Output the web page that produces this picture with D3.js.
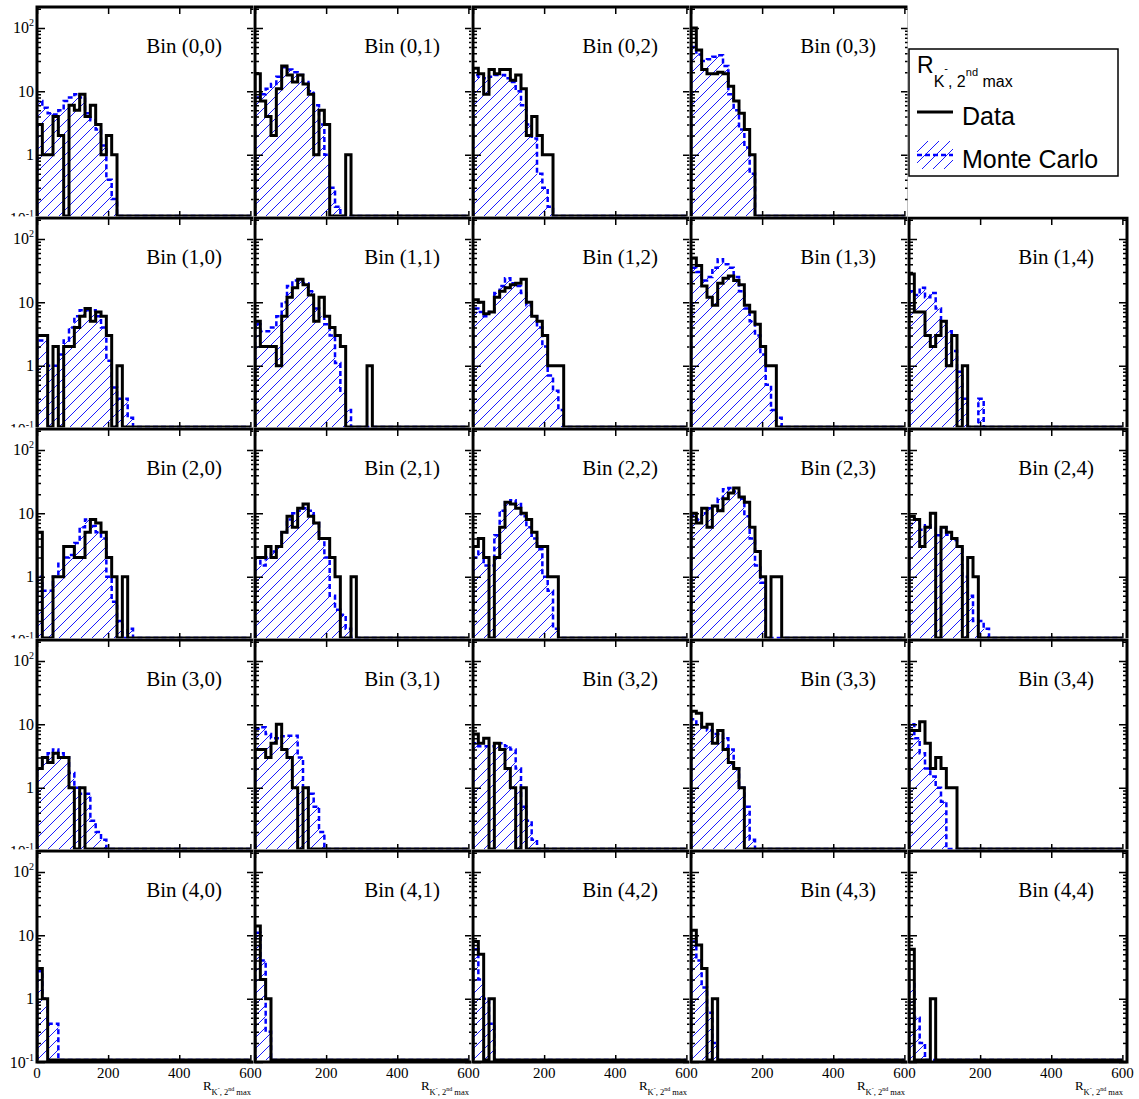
<!DOCTYPE html>
<html><head><meta charset="utf-8">
<script src="https://cdn.jsdelivr.net/npm/d3@7"></script>
<style>body{margin:0;background:#fff}svg{display:block}</style>
</head><body>
<svg id="c" width="1139" height="1099"></svg>
<script>
// ---- data: counts per 15-unit bin of R_{K-, 2nd max}, starting at 0 ----
const BIN_WIDTH = 15;
const xTickValues = [0, 200, 400, 600];
const yMajorValues = [0.1, 1, 10, 100];
const yTickLabels = [["10","2",100],["10","",10],["1","",1],["10","-1",0.1]];

const data00 = [3, 1, 1, 4, 2, 0, 6, 5, 9, 4, 6, 3, 1, 2, 1];
const mc00   = [7, 5.5, 4.5, 4.3, 5, 7, 8, 9, 8, 4.5, 3.5, 2.5, 1.4, 0.4, 0.2];
const data01 = [19, 7, 4, 2, 11, 25, 18, 14, 18, 13, 9, 1, 5, 3, 0, 0, 0, 1];
const mc01   = [8, 9, 11, 13, 17, 24, 22, 20, 18, 14, 10, 6, 3, 1, 0.3, 0.15];
const data02 = [23, 19, 9, 22, 19, 22, 22, 15, 18, 11, 2, 4, 2, 1, 1];
const mc02   = [18, 17, 16, 17, 18, 18, 16, 14, 10, 6, 3, 1.8, 0.5, 0.3, 0.15];
const data03 = [100, 45, 22, 19, 19, 20, 19, 12, 7, 4.5, 2.5, 1];
const mc03   = [50, 38, 30, 32, 35, 37, 25, 9, 5, 2.5, 1.3, 0.5];

const data10 = [3, 3, 0, 2, 0, 2, 2, 4, 6, 8, 5, 7, 6, 3, 0, 1];
const mc10   = [2.5, 2.5, 1, 1, 1.5, 2.5, 4, 6, 7.5, 7.5, 7.5, 6, 4, 1.2, 0.45, 0.3, 0.3, 0.15];
const data11 = [5, 2, 2, 2, 1, 6, 12, 17, 23, 19, 13, 5, 12, 6, 4, 3, 2, 0, 0, 0, 0, 1];
const mc11   = [4.5, 3.5, 3.5, 4, 6, 10, 18, 22, 22, 20, 15, 8, 6, 4.5, 3, 1.1, 0.4, 0.2];
const data12 = [11, 10, 6.6, 7, 12, 15, 17, 19, 20, 23, 10, 6, 5, 3, 1, 1, 1];
const mc12   = [8, 7, 6, 7, 14, 18, 24, 20, 18, 14, 9, 6, 4, 2, 0.7, 0.4, 0.2];
const data13 = [50, 38, 18, 12, 9, 20, 24, 26, 22, 19, 9, 7, 4.5, 2, 1, 1];
const mc13   = [35, 30, 22, 25, 35, 48, 40, 35, 25, 15, 8, 5, 3, 1.5, 0.5, 0.2, 0.15];
const data14 = [28, 7, 7, 3, 2, 3, 5, 1, 3, 0, 1];
const mc14   = [15, 13, 17, 12, 14, 8, 5, 3.5, 1.7, 0.8, 0.3, 0, 0, 0.3];

const data20 = [5, 0, 0, 1, 1, 3, 3, 2, 2, 5, 8, 7, 5, 2, 1, 0, 1];
const mc20   = [1, 0.6, 0.6, 1, 1.6, 2, 2.2, 3.4, 6, 8, 6.3, 5, 4, 1, 0.4, 0.2, 0, 0.15];
const data21 = [2, 2, 3, 2, 3, 5, 9, 6, 12, 14, 9, 7, 4, 4, 2, 1, 0, 0, 1];
const mc21   = [2, 1.5, 2, 2.5, 3, 5, 8, 10, 11, 12, 11, 7, 4, 2, 0.5, 0.3, 0.25, 0.15];
const data22 = [3, 4, 2, 0, 2, 6, 15, 14, 12, 10, 8, 5, 3, 3, 1, 1];
const mc22   = [2, 2.5, 1.5, 1.5, 4.5, 11, 15, 16, 14, 9, 6, 4, 2.7, 1, 0.6, 0.15];
const data23 = [10, 7, 12, 6, 13, 11, 17, 21, 25, 18, 15, 6, 2.5, 1, 0, 1, 1];
const mc23   = [9, 8, 10, 12, 13, 17, 24, 25, 22, 17, 9, 4, 1.5, 0.8];
const data24 = [9, 8, 3, 6, 10, 0, 6, 5, 4, 3, 0, 2, 1];
const mc24   = [9, 8, 5.5, 6.5, 6, 4.5, 6, 4.6, 3.8, 3, 1, 0.5, 0.2, 0.2, 0.15];

const data30 = [2, 3, 2.5, 3.5, 3, 3, 1, 0, 1];
const mc30   = [2, 3, 3.5, 4, 3.5, 3, 1.7, 1, 0.8, 0.8, 0.3, 0.2, 0.15];
const data31 = [4, 4, 3, 5, 10, 4, 3, 1, 0, 1];
const mc31   = [8.5, 9, 7, 6, 6, 6.5, 6.6, 6.6, 3, 1, 0.8, 0.5, 0.2];
const data32 = [7, 5, 6, 0, 5, 4, 2, 1, 0, 1];
const mc32   = [5, 4.5, 4.5, 4.5, 5, 5, 4.5, 4, 2, 0.5, 0.3, 0.15];
const data33 = [16, 15, 9, 10, 5, 8, 4, 2.5, 2, 1];
const mc33   = [12, 10, 9, 8, 7, 7, 6, 4, 2, 1, 0.5, 0.15];
const data34 = [8, 8, 11, 5, 2, 3, 2, 1, 1];
const mc34   = [10, 6, 3.5, 2, 1.5, 1, 0.6];

const data40 = [3, 1];
const mc40   = [2.7, 1, 0.4, 0.4];
const data41 = [14, 2, 1];
const mc41   = [11, 4, 0.3];
const data42 = [8, 5, 0, 1];
const mc42   = [6, 2, 1, 0.4];
const data43 = [12, 7, 3, 0, 1];
const mc43   = [8, 4, 1.5, 0.6, 0.2];
const data44 = [6, 0, 0, 0, 1];
const mc44   = [1.7, 0.5, 0.2];

const panels = [
  [0,0,data00,mc00],[0,1,data01,mc01],[0,2,data02,mc02],[0,3,data03,mc03],
  [1,0,data10,mc10],[1,1,data11,mc11],[1,2,data12,mc12],[1,3,data13,mc13],[1,4,data14,mc14],
  [2,0,data20,mc20],[2,1,data21,mc21],[2,2,data22,mc22],[2,3,data23,mc23],[2,4,data24,mc24],
  [3,0,data30,mc30],[3,1,data31,mc31],[3,2,data32,mc32],[3,3,data33,mc33],[3,4,data34,mc34],
  [4,0,data40,mc40],[4,1,data41,mc41],[4,2,data42,mc42],[4,3,data43,mc43],[4,4,data44,mc44]
];

// ---- layout ----
const W = 1139, H = 1099;
const left0 = 37, colW = 218, top0 = 7, rowH = 211;
const SERIF = "'Liberation Serif', 'Times New Roman', serif";
const SANS = "'Liberation Sans', Arial, sans-serif";
const BLUE = "#0000ff";
const HATCH_STEP = 11;

const svg = d3.select("#c");
svg.append("rect").attr("width", W).attr("height", H).attr("fill", "#fff");
const defs = svg.append("defs");
defs.append("clipPath").attr("id", "frameClip").append("rect")
  .attr("x", 0).attr("y", 0).attr("width", colW).attr("height", rowH);

const x = d3.scaleLinear().domain([0, 613]).range([0, colW]);
const y = d3.scaleLog().domain([0.1, 214]).range([rowH, 0]).clamp(true);
const zeroY = rowH - 2;
const nBins = 600 / BIN_WIDTH;
const line = d3.line();

function stepPts(vals) {
  const pts = [[x(0), zeroY]];
  for (let i = 0; i < nBins; i++) {
    const v = vals[i] || 0;
    const yy = v > 0 ? Math.min(y(v), zeroY) : zeroY;
    pts.push([x(i * BIN_WIDTH), yy], [x((i + 1) * BIN_WIDTH), yy]);
  }
  pts.push([x(600), zeroY]);
  return pts;
}

// diagonal "/" hatch lines inside a clip region
function hatch(sel, clipId, w, h) {
  const hg = sel.append("g").attr("clip-path", `url(#${clipId})`);
  const ks = d3.range(-h, w + HATCH_STEP, HATCH_STEP);
  hg.selectAll("line").data(ks).join("line")
    .attr("x1", k => k).attr("y1", h).attr("x2", k => k + h).attr("y2", 0)
    .attr("stroke", BLUE).attr("stroke-width", 0.9);
}

const minorVals = [];
[0.1, 1, 10, 100].forEach(d => { for (let k = 2; k <= 9; k++) { const v = k * d; if (v <= 214) minorVals.push(v); } });

const overlay = [];

panels.forEach(([row, col, dat, mc]) => {
  const fx = left0 + col * colW, fy = top0 + row * rowH;
  const px0 = col === 0 ? 0 : fx - 1.5, px1 = col === 4 ? W : fx + colW - 1.5;
  const py0 = row === 0 ? 0 : fy - 1.5, py1 = row === 4 ? H : fy + rowH - 1.5;
  const cid = `pad${row}${col}`;
  defs.append("clipPath").attr("id", cid).append("rect")
    .attr("x", px0).attr("y", py0).attr("width", px1 - px0).attr("height", py1 - py0);
  const pad = svg.append("g").attr("clip-path", `url(#${cid})`);
  pad.append("rect").attr("x", px0).attr("y", py0).attr("width", px1 - px0).attr("height", py1 - py0).attr("fill", "#fff");
  const g = pad.append("g").attr("transform", `translate(${fx},${fy})`);
  const plot = g.append("g").attr("clip-path", "url(#frameClip)");

  const mcPts = stepPts(mc);
  const mcid = `mc${row}${col}`;
  defs.append("clipPath").attr("id", mcid).append("path").attr("d", line(mcPts) + "Z");
  hatch(plot, mcid, colW, rowH);
  plot.append("path").datum(mcPts).attr("d", line).attr("fill", "none")
    .attr("stroke", BLUE).attr("stroke-width", 2.5).attr("stroke-dasharray", "5,3");
  plot.append("path").datum(stepPts(dat)).attr("d", line).attr("fill", "none")
    .attr("stroke", "#000").attr("stroke-width", 3);

  g.append("rect").attr("width", colW).attr("height", rowH)
    .attr("fill", "none").attr("stroke", "#000").attr("stroke-width", 3);

  // ticks via d3 axes (inward)
  const mk = (axis, tr) => {
    const a = g.append("g").attr("transform", tr).call(axis);
    a.select(".domain").remove();
    a.selectAll("line").attr("stroke", "#000").attr("stroke-width", 1.5);
    a.selectAll("text").remove();
  };
  mk(d3.axisLeft(y).tickValues(yMajorValues).tickSize(-8).tickFormat(""), "translate(0,0)");
  mk(d3.axisLeft(y).tickValues(minorVals).tickSize(-4).tickFormat(""), "translate(0,0)");
  mk(d3.axisRight(y).tickValues(yMajorValues).tickSize(-8).tickFormat(""), `translate(${colW},0)`);
  mk(d3.axisRight(y).tickValues(minorVals).tickSize(-4).tickFormat(""), `translate(${colW},0)`);
  mk(d3.axisBottom(x).tickValues(xTickValues).tickSize(-7).tickFormat(""), `translate(0,${rowH})`);
  mk(d3.axisTop(x).tickValues(xTickValues).tickSize(-7).tickFormat(""), "translate(0,0)");

  // bin label
  g.append("text").attr("x", 185).attr("y", 46).attr("text-anchor", "end")
    .style("font-family", SERIF).style("font-size", "21px").text(`Bin (${row},${col})`);

  // y tick labels (first column)
  if (col === 0) {
    yTickLabels.forEach(([base, sup, v]) => {
      const t = g.append("text").attr("x", -3).attr("y", y(v) + 5.5).attr("text-anchor", "end")
        .style("font-family", SERIF).style("font-size", "16px");
      t.append("tspan").text(base);
      if (sup) t.append("tspan").attr("dy", -7).style("font-size", "10px").text(sup);
    });
  }
  if (row === 4) overlay.push([fx, fy, col]);
});

// x tick labels and axis titles for the bottom row
overlay.forEach(([fx, fy, col]) => {
  const g = svg.append("g").attr("transform", `translate(${fx},${fy})`);
  xTickValues.filter(v => v > 0 || col === 0).forEach(v => {
    g.append("text").attr("x", x(v)).attr("y", rowH + 16).attr("text-anchor", "middle")
      .style("font-family", SERIF).style("font-size", "15px").text(v);
  });
  const tt = g.append("text").attr("x", colW - 4).attr("y", rowH + 28).attr("text-anchor", "end")
    .style("font-family", SERIF);
  tt.append("tspan").style("font-size", "13px").text("R");
  tt.append("tspan").attr("dy", 5).style("font-size", "8.5px").text("K");
  tt.append("tspan").attr("dy", -5).style("font-size", "6px").text("-");
  tt.append("tspan").attr("dy", 5).style("font-size", "8.5px").text(", 2");
  tt.append("tspan").attr("dy", -4).style("font-size", "6px").text("nd");
  tt.append("tspan").attr("dy", 4).style("font-size", "8.5px").text(" max");
});

// ---- legend ----
const lg = svg.append("g");
lg.append("rect").attr("x", 909).attr("y", 49).attr("width", 209).attr("height", 127)
  .attr("fill", "#fff").attr("stroke", "#000").attr("stroke-width", 1.5);
const lt = lg.append("text").attr("x", 917).attr("y", 73).style("font-family", SANS);
lt.append("tspan").style("font-size", "23px").text("R");
lt.append("tspan").attr("dy", 14).style("font-size", "16px").text("K");
lt.append("tspan").attr("dy", -15).style("font-size", "11px").text("-");
lt.append("tspan").attr("dy", 15).style("font-size", "16px").text(", 2");
lt.append("tspan").attr("dy", -11).style("font-size", "11px").text("nd");
lt.append("tspan").attr("dy", 11).style("font-size", "16px").text(" max");
lg.append("line").attr("x1", 917).attr("x2", 953).attr("y1", 112).attr("y2", 112)
  .attr("stroke", "#000").attr("stroke-width", 3);
lg.append("text").attr("x", 962).attr("y", 125).style("font-family", SANS).style("font-size", "25px").text("Data");
defs.append("clipPath").attr("id", "legHatch").append("rect").attr("x", 0).attr("y", 0).attr("width", 36).attr("height", 28);
hatch(lg.append("g").attr("transform", "translate(917,141)"), "legHatch", 36, 28);
lg.append("line").attr("x1", 917).attr("x2", 953).attr("y1", 155).attr("y2", 155)
  .attr("stroke", BLUE).attr("stroke-width", 2.5).attr("stroke-dasharray", "5,3");
lg.append("text").attr("x", 962).attr("y", 168).style("font-family", SANS).style("font-size", "25px").text("Monte Carlo");
</script>
</body></html>
